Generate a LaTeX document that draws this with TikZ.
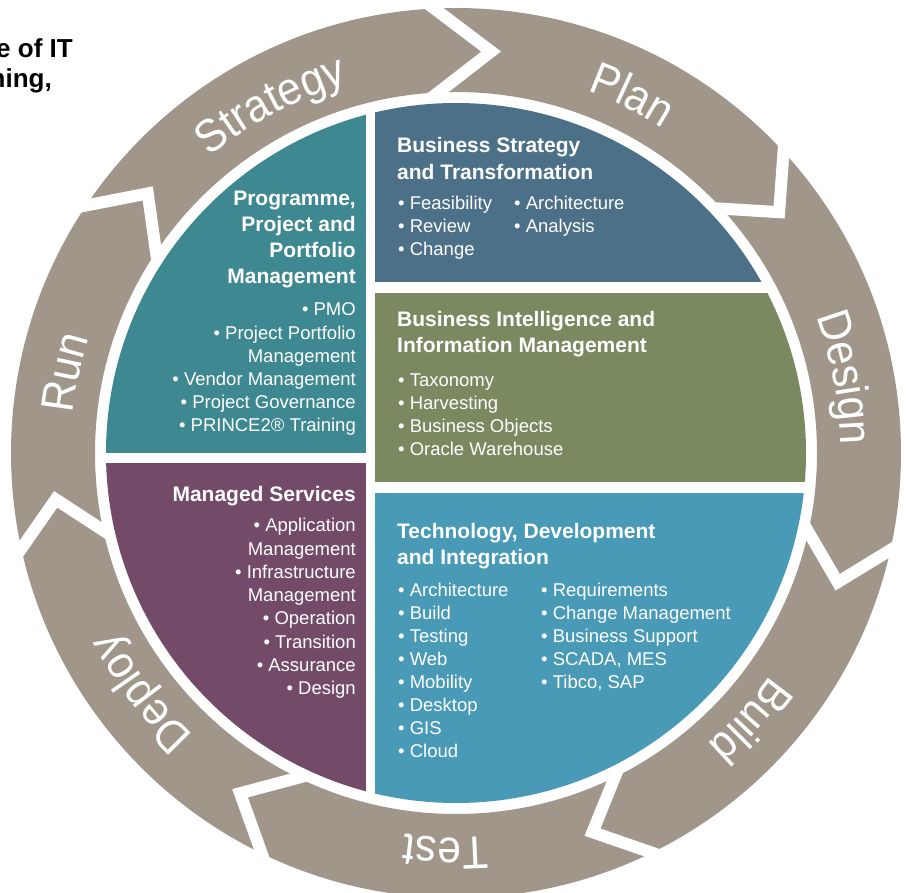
\documentclass[tikz,border=0pt]{standalone}
\usepackage{fontspec}
\setmainfont{Liberation Sans}
\newfontfamily\ringfam[FakeStretch=0.92]{Liberation Sans}
\usetikzlibrary{calc,decorations.text}
\definecolor{ringgray}{HTML}{A1968A}
\definecolor{tealc}{HTML}{3E8991}
\definecolor{purplec}{HTML}{734B68}
\definecolor{bluedark}{HTML}{4C7088}
\definecolor{greenc}{HTML}{7B8961}
\definecolor{bluelight}{HTML}{499AB6}
\newcommand\ringfont{\ringfam\fontsize{46}{46}\selectfont}
\begin{document}
\begin{tikzpicture}[x=1pt,y=-1pt,
  head/.style={font=\fontsize{21}{26}\selectfont\bfseries, text=white, inner sep=0pt},
  item/.style={font=\fontsize{18.5}{23}\selectfont, text=white, inner sep=0pt},
  intro/.style={font=\fontsize{26}{30}\selectfont\bfseries, text=black, inner sep=0pt, anchor=base east},
  gapline/.style={white, line width=12pt, line join=miter, line cap=butt}]
\useasboundingbox (0,0) rectangle (906,893);
\clip (0,0) rectangle (906,893);
% ring
\begin{scope}[shift={(456,453)}, y=1pt]
  \fill[ringgray, even odd rule] (0,0) circle (445) (0,0) circle (361);
  \foreach \b/\t in {146.2/139.9, 92.8/85, 42.6/36.7, -12.6/-18.7, -63.9/-70.2, -115.9/-122.4, 192.4/186.6}
    \draw[gapline] ($(\t:403)!1.4!(\b:445)$) -- (\t:403) -- ($(\t:403)!1.4!(\b:361)$);
  \path[decorate, decoration={text along path, text={|\ringfont|Strategy}, text align=center, text color=white}] (158:385) arc[start angle=158, end angle=78, radius=385];
  \path[decorate, decoration={text along path, text={|\ringfont|Plan}, text align=center, text color=white}] (103.8:385) arc[start angle=103.8, end angle=23.8, radius=385];
  \path[decorate, decoration={text along path, text={|\ringfont|Design}, text align=center, text color=white}] (51:385) arc[start angle=51, end angle=-29, radius=385];
  \path[decorate, decoration={text along path, text={|\ringfont|Build}, text align=center, text color=white}] (-2.2:385) arc[start angle=-2.2, end angle=-82.2, radius=385];
  \path[decorate, decoration={text along path, text={|\ringfont|Test}, text align=center, text color=white}] (-51.5:385) arc[start angle=-51.5, end angle=-131.5, radius=385];
  \path[decorate, decoration={text along path, text={|\ringfont|Deploy}, text align=center, text color=white}] (-102.7:385) arc[start angle=-102.7, end angle=-182.7, radius=385];
  \path[decorate, decoration={text along path, text={|\ringfont|Run}, text align=center, text color=white}] (208.4:385) arc[start angle=208.4, end angle=128.4, radius=385];
\end{scope}
% disc
\begin{scope}
  \clip (456,453) circle (350);
  \fill[tealc] (90,90) rectangle (366,453);
  \fill[purplec] (90,463) rectangle (366,820);
  \fill[bluedark] (375,90) rectangle (820,282);
  \fill[greenc] (375,293) rectangle (820,482);
  \fill[bluelight] (375,493) rectangle (820,820);
\end{scope}
% intro text (cut at the left edge)
\node[intro] (introA) at (73,58) {e of IT};
\node[intro] (introB) at (52,88) {ning,};
% Business Strategy and Transformation
\node[head, anchor=base west] (bst1) at (397,153) {Business Strategy};
\node[head, anchor=base west] (bst2) at (397,180) {and Transformation};
\foreach \s [count=\i] in {Feasibility, Review, Change}
  \node[item, anchor=base west] (bsa\i) at (398,{210+23*(\i-1)}) {• \s};
\foreach \s [count=\i] in {Architecture, Analysis}
  \node[item, anchor=base west] (bsb\i) at (514,{210+23*(\i-1)}) {• \s};
% Business Intelligence
\node[head, anchor=base west] (bi1) at (397,327) {Business Intelligence and};
\node[head, anchor=base west] (bi2) at (397,353) {Information Management};
\foreach \s [count=\i] in {Taxonomy, Harvesting, Business Objects, Oracle Warehouse}
  \node[item, anchor=base west] (bia\i) at (398,{387+23*(\i-1)}) {• \s};
% Technology
\node[head, anchor=base west] (td1) at (397,538) {Technology, Development};
\node[head, anchor=base west] (td2) at (397,564) {and Integration};
\foreach \s [count=\i] in {Architecture, Build, Testing, Web, Mobility, Desktop, GIS, Cloud}
  \node[item, anchor=base west] (tda\i) at (398,{596+23.1*(\i-1)}) {• \s};
\foreach \s [count=\i] in {Requirements, Change Management, Business Support, {SCADA, MES}, {Tibco, SAP}}
  \node[item, anchor=base west] (tdb\i) at (541,{596+23.1*(\i-1)}) {• \s};
% Programme
\foreach \s [count=\i] in {{Programme,}, Project and, Portfolio, Management}
  \node[head, anchor=base east] (pp\i) at (356,{206+26*(\i-1)}) {\s};
\foreach \s [count=\i] in {• PMO, • Project Portfolio, Management, • Vendor Management, • Project Governance, • PRINCE2® Training}
  \node[item, anchor=base east] (ppa\i) at (356,{316+23.2*(\i-1)}) {\s};
% Managed Services
\node[head, anchor=base east] (ms1) at (356,501) {Managed Services};
\foreach \s [count=\i] in {• Application, Management, • Infrastructure, Management, • Operation, • Transition, • Assurance, • Design}
  \node[item, anchor=base east] (msa\i) at (356,{532+23.2*(\i-1)}) {\s};
\end{tikzpicture}
\end{document}
